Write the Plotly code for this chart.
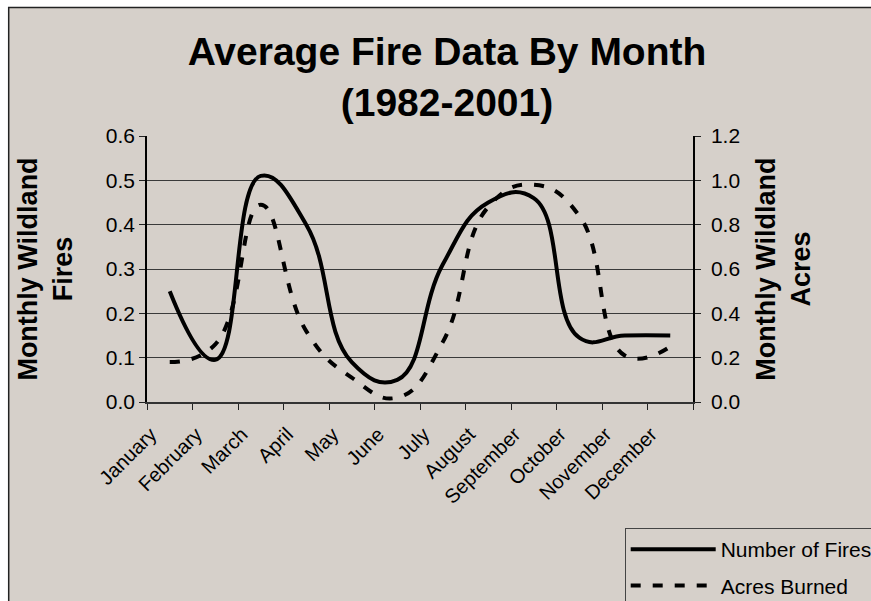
import plotly.graph_objects as go

months = ["January", "February", "March", "April", "May", "June", "July",
          "August", "September", "October", "November", "December"]
fires = [0.25, 0.095, 0.51, 0.40, 0.09, 0.05, 0.31, 0.45, 0.46, 0.145, 0.15, 0.15]
acres = [0.18, 0.26, 0.89, 0.32, 0.11, 0.02, 0.27, 0.88, 0.98, 0.84, 0.21, 0.25]

BG = "#D6D0CA"
FONT = "Liberation Sans, Arial, sans-serif"

fig = go.Figure()
fig.add_trace(go.Scatter(
    x=months, y=fires, name="Number of Fires", mode="lines",
    line=dict(color="black", width=4, shape="spline", smoothing=1.3),
    legendgroup="a", yaxis="y"))
fig.add_trace(go.Scatter(
    x=months, y=acres, name="Acres Burned", mode="lines",
    line=dict(color="black", width=4, shape="spline", smoothing=1.3, dash="10px,12px"),
    legendgroup="b", yaxis="y2"))

# chart-area background with border (extends past the image on right/bottom)
fig.add_shape(type="rect", xref="paper", yref="paper",
              x0=(9 - 147.3) / 546, x1=(920 - 147.3) / 546,
              y0=(402 - 660) / 266, y1=(402 - 7.5) / 266,
              fillcolor=BG, line=dict(color="#222222", width=1.5), layer="below")

fig.update_layout(
    width=871, height=601,
    margin=dict(l=147, r=178, t=136, b=199, pad=0, autoexpand=False),
    paper_bgcolor="white", plot_bgcolor="rgba(0,0,0,0)",
    font=dict(family=FONT, color="black"),
    title=dict(text="<b>Average Fire Data By Month<br>(1982-2001)</b>",
               font=dict(size=39, family=FONT, color="black"),
               x=447 / 871, xanchor="center", xref="container",
               y=1 - 65 / 601, yanchor="top", yref="container"),
    xaxis=dict(type="category", categoryorder="array", categoryarray=months,
               range=[-0.5, 11.5], tickson="boundaries", ticks="outside",
               ticklen=6, tickcolor="#222", tickwidth=1, tickangle=-45,
               tickfont=dict(size=20), ticklabelshift=-19, ticklabelstandoff=11,
               showgrid=False, showline=True,
               linecolor="#333", linewidth=1.5, zeroline=False),
    yaxis=dict(range=[0, 0.6], dtick=0.1, tickformat=".1f", ticks="outside",
               ticklen=6, tickcolor="#222", tickfont=dict(size=21),
               showgrid=True, gridcolor="#3a3a3a", gridwidth=1,
               showline=True, linecolor="black", linewidth=1.5, zeroline=False,
               title=dict(text="<b>Monthly Wildland<br>Fires</b>",
                          font=dict(size=27), standoff=25)),
    yaxis2=dict(range=[0, 1.2], dtick=0.2, tickformat=".1f", ticks="outside",
                ticklen=6, tickcolor="#222", tickfont=dict(size=21),
                ticklabelstandoff=6,
                overlaying="y", side="right", showgrid=False,
                showline=True, linecolor="black", linewidth=1.5, zeroline=False,
                title=dict(text="<b>Monthly Wildland<br>Acres</b>",
                           font=dict(size=27), standoff=17)),
    legend=dict(x=(625 - 147.3) / 546, y=(402 - 528) / 266, xref="paper", yref="paper",
                xanchor="left", yanchor="top", bgcolor=BG, bordercolor="#444",
                borderwidth=1, font=dict(size=21), traceorder="grouped",
                tracegroupgap=6, itemwidth=85),
    showlegend=True,
)

fig.write_html("out.html",
               config={"displayModeBar": False},
               post_script="document.body.style.margin='0';"
                           "document.body.style.overflow='hidden';")
